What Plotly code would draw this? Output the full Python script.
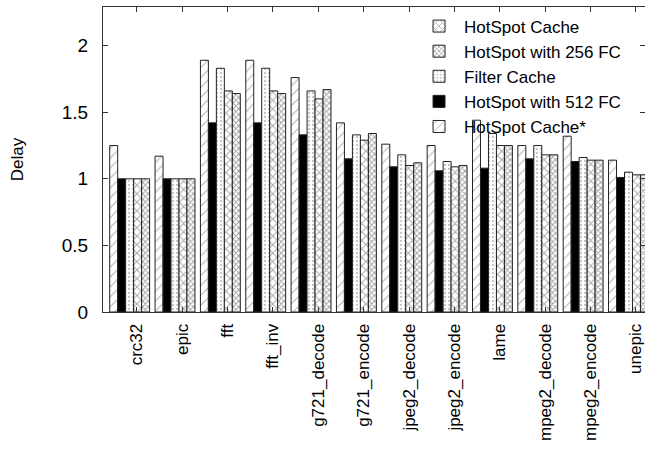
import plotly.graph_objects as go

benchmarks = ["crc32", "epic", "fft", "fft_inv", "g721_decode", "g721_encode",
              "jpeg2_decode", "jpeg2_encode", "lame", "mpeg2_decode", "mpeg2_encode", "unepic"]

hotspot_cache_star = [1.25, 1.17, 1.89, 1.89, 1.76, 1.42, 1.26, 1.25, 1.44, 1.25, 1.32, 1.14]
hotspot_512fc      = [1.00, 1.00, 1.42, 1.42, 1.33, 1.15, 1.09, 1.06, 1.08, 1.15, 1.13, 1.01]
filter_cache       = [1.00, 1.00, 1.83, 1.83, 1.66, 1.33, 1.18, 1.13, 1.34, 1.25, 1.16, 1.05]
hotspot_cache      = [1.00, 1.00, 1.66, 1.66, 1.60, 1.29, 1.10, 1.09, 1.25, 1.18, 1.14, 1.03]
hotspot_256fc      = [1.00, 1.00, 1.64, 1.64, 1.67, 1.34, 1.12, 1.10, 1.25, 1.18, 1.14, 1.03]

y_ticks = [0, 0.5, 1, 1.5, 2]
y_tick_text = ["0", "0.5", "1", "1.5", "2"]

x = list(range(len(benchmarks)))
FONT = "Liberation Sans, Arial, sans-serif"

series = [
    ("HotSpot Cache*", hotspot_cache_star, dict(shape="/", fgcolor="#666666", bgcolor="white", size=7, solidity=0.15), 5),
    ("HotSpot with 512 FC", hotspot_512fc, dict(shape="", bgcolor="black"), 4),
    ("Filter Cache", filter_cache, dict(shape=".", fgcolor="#888888", bgcolor="white", size=4, solidity=0.25), 3),
    ("HotSpot Cache", hotspot_cache, dict(shape="x", fgcolor="#555555", bgcolor="white", size=6, solidity=0.3), 1),
    ("HotSpot with 256 FC", hotspot_256fc, dict(shape="x", fgcolor="#444444", bgcolor="white", size=4, solidity=0.45), 2),
]

fig = go.Figure()
for name, vals, pat, rank in series:
    fig.add_trace(go.Bar(
        x=x, y=vals, name=name, legendrank=rank,
        marker=dict(color="black" if pat.get("shape") == "" else "white",
                    pattern=pat, line=dict(color="#222222", width=1)),
    ))

fig.update_layout(
    width=645, height=466,
    margin=dict(l=103, r=0, t=7, b=154, autoexpand=False),
    paper_bgcolor="white", plot_bgcolor="white",
    barmode="group", bargap=0.12, bargroupgap=0,
    font=dict(family=FONT, size=17, color="black"),
    showlegend=True,
    legend=dict(x=0.965, y=0.995, xanchor="right", yanchor="top",
                bgcolor="rgba(0,0,0,0)", font=dict(size=17),
                itemwidth=40, tracegroupgap=0),
)
fig.update_xaxes(
    range=[-0.588, 11.364], automargin=False,
    tickmode="array", tickvals=[i + 0.16 for i in x], ticktext=benchmarks,
    tickangle=-90, ticks="inside", ticklen=5, tickcolor="#333333",
    showline=True, linecolor="#333333", linewidth=1, mirror="ticks",
    showgrid=False, zeroline=False, ticklabelstandoff=4,
    ticklabeloverflow="allow",
    tickfont=dict(size=17),
)
fig.update_yaxes(
    range=[0, 2.29], automargin=False,
    tickmode="array", tickvals=y_ticks, ticktext=y_tick_text,
    ticks="inside", ticklen=5, tickcolor="#333333",
    showline=True, linecolor="#333333", linewidth=1, mirror="ticks",
    showgrid=False, zeroline=False, ticklabelstandoff=10,
    title=dict(text="Delay", standoff=33, font=dict(size=17)),
    tickfont=dict(size=19),
)

fig.write_html("out.html", config={"displayModeBar": False},
               post_script="document.body.style.margin='0';")
